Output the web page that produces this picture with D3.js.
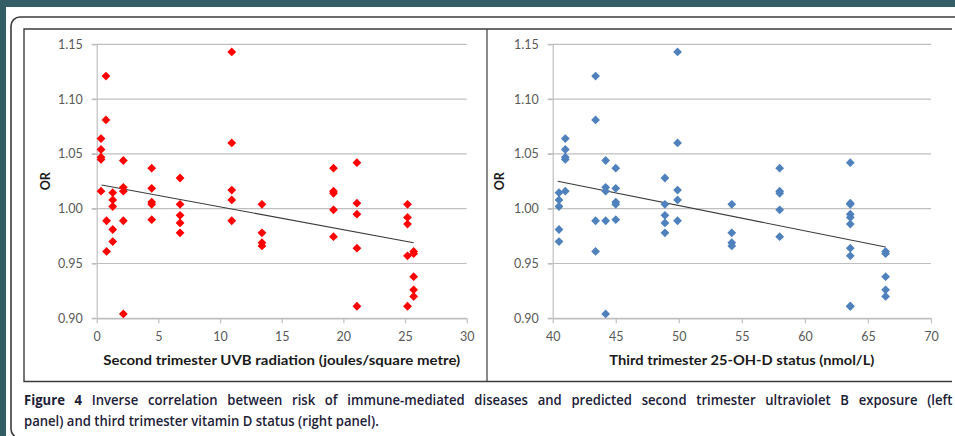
<!DOCTYPE html>
<html>
<head>
<meta charset="utf-8">
<script src="https://cdn.jsdelivr.net/npm/d3@7"></script>
<style>
  html, body { margin: 0; padding: 0; background: #335e65; }
  svg { display: block; }
</style>
</head>
<body>
<svg id="chart" width="955" height="436"></svg>
<script>
// ---------------- DATA ----------------
// UVB exposure (left panel, J/m²) for each disease point
const uvbValues = [
  0.35, 0.35, 0.35, 0.35, 0.35,
  0.75, 0.75, 0.8, 0.8,
  1.3, 1.3, 1.3, 1.3, 1.3,
  2.16, 2.16, 2.16, 2.16, 2.16,
  4.46, 4.46, 4.46, 4.46, 4.46,
  6.76, 6.76, 6.76, 6.76, 6.76,
  10.95, 10.95, 10.95, 10.95, 10.95,
  13.4, 13.4, 13.4, 13.4,
  19.2, 19.2, 19.2, 19.2, 19.2,
  21.1, 21.1, 21.1, 21.1, 21.1,
  25.2, 25.2, 25.2, 25.2, 25.2,
  25.7, 25.7, 25.7, 25.7, 25.7
];
// 25-OH-D status (right panel, nmol/L) for each disease point
const vitDValues = [
  41.0, 41.0, 41.0, 41.0, 41.0,
  43.4, 43.4, 43.4, 43.4,
  40.5, 40.5, 40.5, 40.5, 40.5,
  44.2, 44.2, 44.2, 44.2, 44.2,
  45.0, 45.0, 45.0, 45.0, 45.0,
  48.9, 48.9, 48.9, 48.9, 48.9,
  49.9, 49.9, 49.9, 49.9, 49.9,
  54.2, 54.2, 54.2, 54.2,
  58.0, 58.0, 58.0, 58.0, 58.0,
  63.6, 63.6, 63.6, 63.6, 63.6,
  63.6, 63.6, 63.6, 63.6, 63.6,
  66.4, 66.4, 66.4, 66.4, 66.4
];
// Odds ratios (shared by both panels)
const orValues = [
  1.064, 1.054, 1.047, 1.045, 1.016,
  1.121, 1.081, 0.989, 0.961,
  1.0146, 1.008, 1.002, 0.981, 0.970,
  1.044, 1.0195, 1.016, 0.989, 0.904,
  1.037, 1.0186, 1.006, 1.004, 0.990,
  1.028, 1.004, 0.994, 0.987, 0.978,
  1.143, 1.060, 1.017, 1.008, 0.989,
  1.004, 0.978, 0.969, 0.966,
  1.037, 1.016, 1.014, 0.999, 0.9745,
  1.042, 1.005, 0.995, 0.964, 0.911,
  1.004, 0.992, 0.986, 0.957, 0.911,
  0.961, 0.959, 0.938, 0.926, 0.920
];
// Linear trend lines (end points)
const uvbTrendX = [0.4, 25.7];
const uvbTrendY = [1.0216, 0.969];
const vitDTrendX = [40.4, 66.4];
const vitDTrendY = [1.025, 0.965];

const yTicks = [0.90, 0.95, 1.00, 1.05, 1.10, 1.15];
const uvbTicks = [0, 5, 10, 15, 20, 25, 30];
const vitDTicks = [40, 45, 50, 55, 60, 65, 70];

const uvbTitle = "Second trimester UVB radiation (joules/square metre)";
const vitDTitle = "Third trimester 25-OH-D status (nmol/L)";
const yTitle = "OR";
const captionBold = "Figure 4";
const captionLine1 = " Inverse correlation between risk of immune-mediated diseases and predicted second trimester ultraviolet B exposure (left";
const captionLine2 = "panel) and third trimester vitamin D status (right panel).";

// ---------------- DRAW ----------------
const svg = d3.select("#chart");
const FONT = "Lato, 'Open Sans', 'DejaVu Sans', sans-serif";

// page background
svg.append("rect").attr("x", 6).attr("y", 7).attr("width", 949).attr("height", 429).attr("fill", "#ffffff");
// outer rounded frame
svg.append("rect").attr("x", 11).attr("y", 17).attr("width", 970).attr("height", 421)
  .attr("rx", 9).attr("fill", "none").attr("stroke", "#3c3c3c").attr("stroke-width", 1.6);
// inner figure box
svg.append("path")
  .attr("d", "M952,29 H24 V381.5 H952")
  .attr("fill", "none").attr("stroke", "#3c3c3c").attr("stroke-width", 1.4);
svg.append("line").attr("x1", 487).attr("x2", 487).attr("y1", 29).attr("y2", 381.5)
  .attr("stroke", "#3c3c3c").attr("stroke-width", 1.2);

const yRange = [318.3, 44.3];

function fitText(sel, width) {
  sel.attr("textLength", width).attr("lengthAdjust", "spacingAndGlyphs");
}

function panel(cfg) {
  const x = d3.scaleLinear().domain(cfg.xDomain).range(cfg.xRange);
  const y = d3.scaleLinear().domain([0.90, 1.15]).range(yRange);
  const g = svg.append("g");
  const grid = "#bfbfbf";

  // gridlines
  g.append("g").selectAll("line").data(yTicks).join("line")
    .attr("x1", cfg.xRange[0] - 5).attr("x2", cfg.xRange[1])
    .attr("y1", d => y(d)).attr("y2", d => y(d))
    .attr("stroke", grid).attr("stroke-width", 1.2);

  // y axis
  const ya = g.append("g").attr("transform", `translate(${cfg.xRange[0]},0)`)
    .call(d3.axisLeft(y).tickValues(yTicks).tickFormat(d3.format(".2f"))
      .tickSize(5).tickSizeOuter(0).tickPadding(9));
  ya.selectAll("path, line").attr("stroke", grid).attr("stroke-width", 1.2);
  ya.selectAll("text").attr("font-family", FONT).attr("font-size", 12.5).attr("fill", "#595959");

  // x axis
  const xa = g.append("g").attr("transform", `translate(0,${yRange[0]})`)
    .call(d3.axisBottom(x).tickValues(cfg.xTicks).tickFormat(d3.format("d"))
      .tickSize(5).tickSizeOuter(0).tickPadding(9));
  xa.selectAll("path, line").attr("stroke", grid).attr("stroke-width", 1.2);
  xa.selectAll("text").attr("font-family", FONT).attr("font-size", 12.5).attr("fill", "#595959");

  // trend line
  g.append("line")
    .attr("x1", x(cfg.trendX[0])).attr("y1", y(cfg.trendY[0]))
    .attr("x2", x(cfg.trendX[1])).attr("y2", y(cfg.trendY[1]))
    .attr("stroke", "#3a3a3a").attr("stroke-width", 1.1);

  // points (diamonds)
  const r = 4.4;
  g.append("g").selectAll("path").data(cfg.xs.map((v, i) => [v, orValues[i]])).join("path")
    .attr("transform", d => `translate(${x(d[0])},${y(d[1])})`)
    .attr("d", `M0,${-r}L${r},0L0,${r}L${-r},0Z`)
    .attr("fill", cfg.color);

  // axis titles
  const xt = g.append("text")
    .attr("x", (cfg.xRange[0] + cfg.xRange[1]) / 2).attr("y", 364.5)
    .attr("text-anchor", "middle").attr("font-family", FONT).attr("font-weight", "bold")
    .attr("font-size", 13).attr("fill", "#1a1a1a").text(cfg.title);
  fitText(xt, cfg.titleWidth);

  g.append("text")
    .attr("transform", `translate(${cfg.yTitleX},${(yRange[0] + yRange[1]) / 2}) rotate(-90)`)
    .attr("text-anchor", "middle").attr("dy", "0.35em")
    .attr("font-family", FONT).attr("font-weight", "bold").attr("font-size", 12.5)
    .attr("fill", "#1a1a1a").text(yTitle);
}

panel({ xDomain: [0, 30], xRange: [96.7, 466.7], xTicks: uvbTicks, xs: uvbValues,
  trendX: uvbTrendX, trendY: uvbTrendY, color: "#ff0000", title: uvbTitle, titleWidth: 357, yTitleX: 46 });
panel({ xDomain: [40, 70], xRange: [552.7, 931], xTicks: vitDTicks, xs: vitDValues,
  trendX: vitDTrendX, trendY: vitDTrendY, color: "#4f81bd", title: vitDTitle, titleWidth: 265, yTitleX: 500 });

// caption (justified first line, natural last line, condensed face)
const CAP = "'Liberation Sans Narrow', 'Open Sans', Lato, sans-serif";
const capColor = "#1c2038";
const c1 = svg.append("text").attr("font-family", CAP).attr("font-size", 13.5)
  .attr("fill", capColor).attr("font-weight", 600);
c1.append("tspan").attr("font-weight", "bold").text(captionBold);
c1.append("tspan").text(captionLine1);
const c2 = svg.append("text").attr("font-family", CAP).attr("font-size", 13.5)
  .attr("fill", capColor).attr("font-weight", 600).text(captionLine2);

const nat1 = c1.node().getComputedTextLength();
const nat2 = c2.node().getComputedTextLength();
const s = Math.min(1, 355 / nat2);          // horizontal condensing of the caption face
const spaces = (captionBold + captionLine1).split(" ").length - 1;
const ws = Math.max(0, (929 / s - nat1) / spaces);
c1.attr("word-spacing", ws).attr("transform", `translate(24,404.5) scale(${s},1)`);
c2.attr("transform", `translate(24,425.5) scale(${s},1)`);
</script>
</body>
</html>
